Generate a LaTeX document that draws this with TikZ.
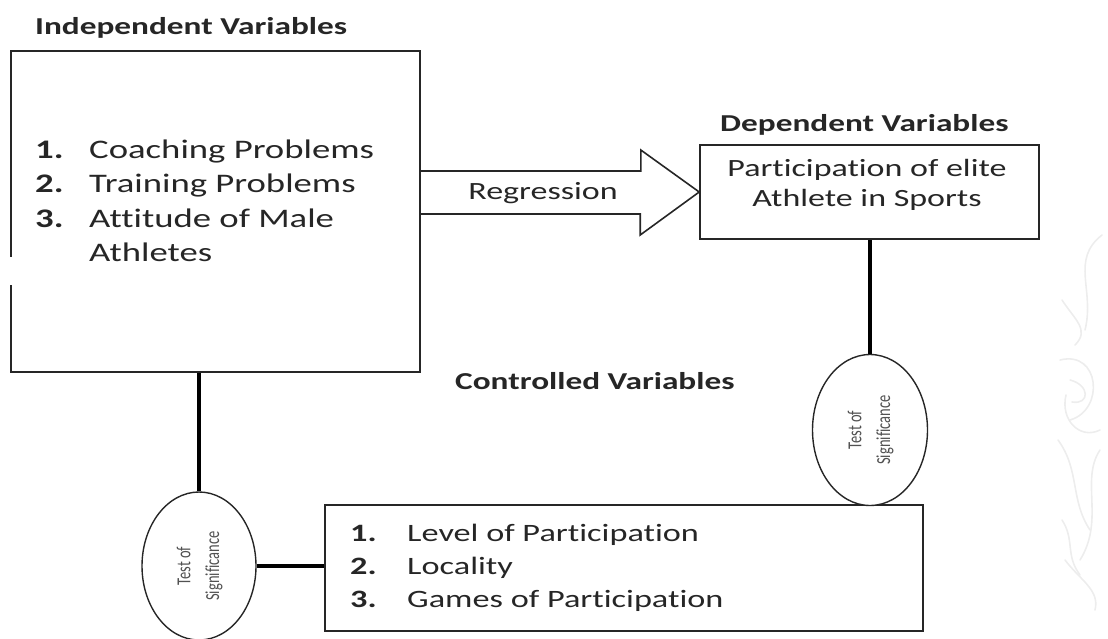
\documentclass[tikz,border=0pt]{standalone}
\usepackage{fontspec}
\setmainfont{Carlito}[FakeStretch=1.37, RawFeature={-liga;-clig;-calt;-dlig;-rlig}]
\newfontfamily\ellfont{Carlito}[RawFeature={-liga;-clig;-calt;-dlig;-rlig}]
\usetikzlibrary{calc,shapes.geometric}
\definecolor{ink}{HTML}{262626}
\definecolor{faint}{HTML}{EDEDED}
\begin{document}
\begin{tikzpicture}[x=1pt,y=-1pt,
  boxst/.style={draw=ink, line width=1.6pt, inner sep=0pt},
  ellst/.style={draw=ink, ellipse, line width=1.4pt, inner sep=0pt},
  conn/.style={draw=black, line width=3.4pt},
  hdr/.style={font=\fontsize{24.3}{28}\selectfont\bfseries, text=ink, inner sep=0pt, anchor=base west},
  num/.style={font=\fontsize{26.8}{30}\selectfont\bfseries, text=ink, inner sep=0pt, anchor=base west},
  itm/.style={font=\fontsize{26.8}{30}\selectfont, text=ink, inner sep=0pt, anchor=base west},
  numc/.style={font=\fontsize{25}{30}\selectfont\bfseries, text=ink, inner sep=0pt, anchor=base west},
  itmc/.style={font=\fontsize{25}{30}\selectfont, text=ink, inner sep=0pt, anchor=base west},
  body/.style={font=\fontsize{24.8}{30}\selectfont, text=ink, inner sep=0pt},
  elltext/.style={rotate=90, font=\ellfont\fontsize{14.5}{21}\selectfont, text=ink!80, inner sep=0pt}
]
\useasboundingbox (0,0) rectangle (1108,639);

% faint decoration at the right edge
\begin{scope}[draw=faint, line width=1.6pt, line cap=round]
  \draw (1102,235) .. controls (1070,260) and (1095,290) .. (1085,330);
  \draw (1062,300) .. controls (1075,320) and (1090,330) .. (1075,345);
  \draw (1060,360) .. controls (1100,350) and (1105,410) .. (1070,420);
  \draw (1070,380) .. controls (1090,385) and (1090,405) .. (1072,402);
  \draw (1066,395) .. controls (1060,420) and (1080,440) .. (1100,430);
  \draw (1058,440) .. controls (1080,470) and (1070,500) .. (1090,530);
  \draw (1100,450) .. controls (1080,480) and (1105,520) .. (1080,560);
  \draw (1062,520) .. controls (1075,540) and (1065,555) .. (1080,575);
  \draw (1065,560) .. controls (1080,580) and (1100,590) .. (1095,610);
\end{scope}

% boxes
\node[boxst, minimum width=409pt, minimum height=321pt] (indep) at (215.5,211.5) {};
\fill[white] (5,257) rectangle (17,285);
\node[boxst, minimum width=339pt, minimum height=94pt] (dep) at (869.5,192) {};
\node[boxst, minimum width=598pt, minimum height=126pt] (ctrl) at (624,568) {};

% ellipses
\node[ellst, minimum width=115pt, minimum height=151pt, fill=white] (rell) at (870,430) {};
\node[ellst, minimum width=114pt, minimum height=148pt] (lell) at (199,566) {};
\node[elltext] (rellt) at (rell.center) {\scalebox{1}[1.37]{\begin{tabular}{@{}c@{}}Test of\\Significance\end{tabular}}};
\node[elltext] (lellt) at (lell.center) {\scalebox{1}[1.37]{\begin{tabular}{@{}c@{}}Test of\\Significance\end{tabular}}};

% headers
\node[hdr] (hind) at (35,35) {Independent Variables};
\node[hdr] (hdep) at (720,132) {Dependent Variables};
\node[hdr] (hctl) at (455,389) {Controlled Variables};

% independent list
\node[num] (n1) at (35,159) {1.};
\node[itm] (i1) at (89,159) {Coaching Problems};
\node[num] (n2) at (35,193) {2.};
\node[itm] (i2) at (89,193) {Training Problems};
\node[num] (n3) at (35,227) {3.};
\node[itm] (i3) at (89,227) {Attitude of Male};
\node[itm] (i4) at (89,261) {Athletes};

% dependent text
\node[body, align=center] (dept) at (867,185) {Participation of elite\\Athlete in Sports};

% controlled list
\node[numc] (c1n) at (350,541) {1.};
\node[itmc] (c1) at (407,541) {Level of Participation};
\node[numc] (c2n) at (350,574) {2.};
\node[itmc] (c2) at (407,574) {Locality};
\node[numc] (c3n) at (350,607) {3.};
\node[itmc] (c3) at (407,607) {Games of Participation};

% block arrow
\coordinate (rt) at (indep.east |- dep.west);
\draw[draw=ink, line width=1.6pt, line join=miter]
  ([yshift=21pt]rt) -- ++(220,0) -- ++(0,-21) -- (dep.west)
  -- ++(-59,43) -- ++(0,-21) -- ++(-220,0);
\node[body] (reg) at (543,193) {Regression};

% connectors
\draw[conn] (lell.north) -- (lell.north |- indep.south);
\draw[conn] (rell.north) -- (rell.north |- dep.south);
\draw[conn] (lell.east) -- (lell.east -| ctrl.west);
\end{tikzpicture}
\end{document}
